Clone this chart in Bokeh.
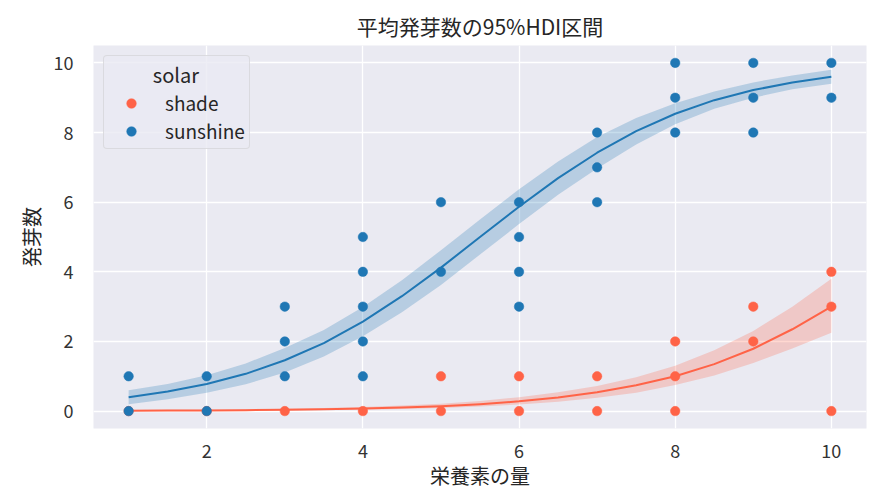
from bokeh.plotting import figure
from bokeh.models import ColumnDataSource, Legend, LegendItem, Range1d, FixedTicker
from bokeh.embed import file_html
from bokeh.resources import INLINE

# ---- data ----
shade_x = [1, 2, 3, 4, 5, 5, 6, 6, 7, 7, 8, 8, 8, 9, 9, 10, 10, 10]
shade_y = [0, 0, 0, 0, 0, 1, 0, 1, 0, 1, 0, 1, 2, 2, 3, 0, 3, 4]
sun_x = [1, 1, 2, 2, 3, 3, 3, 4, 4, 4, 4, 4, 5, 5, 6, 6, 6, 6, 7, 7, 7, 8, 8, 8, 9, 9, 9, 10, 10]
sun_y = [0, 1, 0, 1, 1, 2, 3, 1, 2, 3, 4, 5, 4, 6, 3, 4, 5, 6, 6, 7, 8, 8, 9, 10, 8, 9, 10, 9, 10]

curve_x = [1, 1.5, 2, 2.5, 3, 3.5, 4, 4.5, 5, 5.5, 6, 6.5, 7, 7.5, 8, 8.5, 9, 9.5, 10]
sun_mean = [0.40, 0.56, 0.78, 1.07, 1.46, 1.95, 2.57, 3.30, 4.12, 5.00, 5.87, 6.69, 7.42, 8.04, 8.54, 8.93, 9.22, 9.44, 9.60]
sun_low = [0.20, 0.34, 0.53, 0.77, 1.11, 1.57, 2.15, 2.84, 3.62, 4.50, 5.37, 6.21, 6.97, 7.66, 8.24, 8.68, 9.00, 9.24, 9.40]
sun_high = [0.60, 0.78, 1.03, 1.37, 1.81, 2.33, 2.99, 3.76, 4.62, 5.50, 6.37, 7.17, 7.87, 8.42, 8.84, 9.18, 9.44, 9.64, 9.80]
shade_mean = [0.01, 0.014, 0.019, 0.027, 0.038, 0.053, 0.074, 0.10, 0.14, 0.20, 0.28, 0.39, 0.54, 0.74, 1.00, 1.35, 1.79, 2.35, 3.00]
shade_low = [0.00, 0.005, 0.008, 0.012, 0.018, 0.028, 0.04, 0.06, 0.09, 0.13, 0.19, 0.27, 0.38, 0.53, 0.75, 1.02, 1.38, 1.80, 2.25]
shade_high = [0.03, 0.035, 0.04, 0.05, 0.07, 0.09, 0.12, 0.16, 0.21, 0.29, 0.40, 0.54, 0.72, 0.97, 1.30, 1.75, 2.30, 3.00, 3.80]

x_ticks = [2, 4, 6, 8, 10]
y_ticks = [0, 2, 4, 6, 8, 10]

RED = "#FF6347"
BLUE = "#1F77B4"
FONT = "Noto Sans CJK JP"

p = figure(width=879, height=493, output_backend="svg", toolbar_location=None,
           title="平均発芽数の95%HDI区間",
           x_range=Range1d(0.55, 10.45), y_range=Range1d(-0.5, 10.5),
           min_border_left=93, min_border_right=13, min_border_top=45, min_border_bottom=65)

p.background_fill_color = "#EAEAF2"
p.border_fill_color = "white"
p.outline_line_color = None

p.title.align = "center"
p.title.text_font = FONT
p.title.text_font_size = "21px"
p.title.text_font_style = "normal"
p.title.text_color = "#262626"
p.title.standoff = 10

for ax in (p.xaxis[0], p.yaxis[0]):
    ax.axis_line_color = None
    ax.major_tick_line_color = None
    ax.minor_tick_line_color = None
    ax.major_label_text_font = FONT
    ax.major_label_text_font_size = "18px"
    ax.major_label_text_color = "#333333"
    ax.axis_label_text_font = FONT
    ax.axis_label_text_font_size = "20px"
    ax.axis_label_text_font_style = "normal"
    ax.axis_label_text_color = "#262626"

p.xaxis.ticker = FixedTicker(ticks=x_ticks)
p.yaxis.ticker = FixedTicker(ticks=y_ticks)
p.xaxis.axis_label = "栄養素の量"
p.yaxis.axis_label = "発芽数"
p.xaxis.major_label_standoff = 9
p.xaxis.axis_label_standoff = 0
p.yaxis.major_label_standoff = 14
p.yaxis.axis_label_standoff = 5

p.xgrid.grid_line_color = "white"
p.ygrid.grid_line_color = "white"
p.xgrid.grid_line_width = 1.3
p.ygrid.grid_line_width = 1.3

curve = ColumnDataSource(dict(x=curve_x, sm=sun_mean, sl=sun_low, sh=sun_high,
                              rm=shade_mean, rl=shade_low, rh=shade_high))

p.varea(x="x", y1="rl", y2="rh", source=curve, fill_color=RED, fill_alpha=0.25)
p.varea(x="x", y1="sl", y2="sh", source=curve, fill_color=BLUE, fill_alpha=0.25)
p.line(x="x", y="rm", source=curve, line_color=RED, line_width=2, line_join="round")
p.line(x="x", y="sm", source=curve, line_color=BLUE, line_width=2, line_join="round")

r_shade = p.scatter(shade_x, shade_y, size=9.5, fill_color=RED, line_color=RED, line_width=0.5)
r_sun = p.scatter(sun_x, sun_y, size=9.5, fill_color=BLUE, line_color=BLUE, line_width=0.5)

legend = Legend(items=[LegendItem(label="shade", renderers=[r_shade]),
                       LegendItem(label="sunshine", renderers=[r_sun])],
                location="top_left")
legend.title = "\u00a0" * 10 + "solar"
legend.title_text_font = FONT
legend.title_text_font_size = "20px"
legend.title_text_font_style = "normal"
legend.title_text_color = "#262626"
legend.title_standoff = 0
legend.label_text_font = FONT
legend.label_text_font_size = "19px"
legend.label_text_color = "#262626"
legend.label_height = 24
legend.glyph_height = 24
legend.glyph_width = 46
legend.label_standoff = 11
legend.background_fill_color = "#EAEAF2"
legend.background_fill_alpha = 0.8
legend.border_line_color = "#CCCCCC"
legend.border_line_width = 1
legend.border_radius = 4
legend.margin = 10
legend.padding = 4
legend.spacing = 1
p.add_layout(legend)

open("out.html", "w").write(file_html(p, INLINE))
